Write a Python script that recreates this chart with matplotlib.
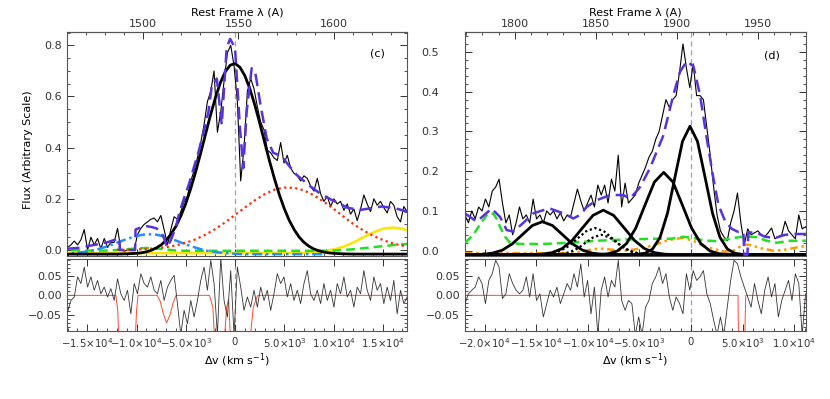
import numpy as np
import matplotlib.pyplot as plt
from matplotlib.ticker import MultipleLocator, FixedLocator

plt.rcParams['font.family'] = ['DejaVu Sans']
plt.rcParams['font.size'] = 8
plt.rcParams['axes.linewidth'] = 0.8

C_KMS = 299792.458

# --------------------------------------
# panel (c) : C IV
# --------------------------------------
civ_lam0 = 1548.2
civ_vlim = (-17060, 17460)
civ_v0, civ_dv = -17000, 338   # spectrum sampling in km/s

civ_flux = [0.01, 0.02, 0.035, 0.02, 0.04, 0.08, 0.0, 0.05, 0.02, 0.045,
            0.005, 0.045, 0.01, 0.03, 0.03, 0.085, 0.0, -0.005, 0.0, 0.005,
            0.0, 0.06, 0.085, 0.1, 0.11, 0.12, 0.125, 0.11, 0.135, 0.08,
            0.02, 0.08, 0.13, 0.12, 0.15, 0.19, 0.21, 0.27, 0.31, 0.36,
            0.42, 0.49, 0.58, 0.62, 0.70, 0.46, 0.54, 0.66, 0.77, 0.80,
            0.72, 0.58, 0.27, 0.40, 0.62, 0.67, 0.63, 0.56, 0.50, 0.47,
            0.39, 0.38, 0.36, 0.35, 0.42, 0.34, 0.37, 0.32, 0.30, 0.29,
            0.27, 0.29, 0.28, 0.25, 0.23, 0.28, 0.22, 0.19, 0.21, 0.17,
            0.20, 0.18, 0.19, 0.155, 0.18, 0.14, 0.16, 0.115, 0.16, 0.215,
            0.18, 0.15, 0.20, 0.175, 0.19, 0.165, 0.145, 0.19, 0.175, 0.13,
            0.11, 0.17, 0.15]

civ_resid = [-0.042, -0.013, -0.004, 0.047, 0.030, 0.072, 0.021, 0.047, 0.013, 0.038,
             0.004, 0.021, -0.004, 0.017, -0.013, 0.042, 0.004, -0.013, 0.013, -0.047,
             0.030, 0.004, 0.055, 0.030, 0.021, 0.047, 0.013, 0.004, 0.038, -0.013,
             0.021, 0.038, 0.051, -0.021, -0.1, -0.038, -0.072, -0.013, -0.055, -0.013,
             0.038, 0.072, 0.013, 0.089, 0.030, -0.1, 0.095, -0.013, -0.055, 0.063,
             -0.1, 0.072, 0.021, -0.038, -0.004, -0.030, 0.013, -0.030, 0.021, -0.013,
             0.013, -0.038, 0.004, 0.055, 0.030, 0.047, -0.004, 0.030, -0.013, 0.013,
             -0.021, 0.030, 0.063, 0.004, -0.013, 0.013, -0.021, 0.030, -0.013, 0.013,
             -0.030, 0.030, 0.004, 0.047, -0.004, 0.013, -0.030, 0.021, 0.004, 0.063,
             0.013, -0.013, 0.047, 0.013, 0.030, -0.021, 0.021, -0.013, 0.038, -0.047,
             0.013, -0.021, -0.004]

# broad C IV gaussian, sampled every 500 km/s
civ_broad_v = np.arange(-18000, 18001, 500)
civ_broad = ([-0.016] * 12 +
             [-0.016, -0.0155, -0.015, -0.014, -0.013, -0.011, -0.007, -0.001, 0.008, 0.020,
              0.038, 0.062, 0.093, 0.133, 0.182, 0.240, 0.305, 0.377, 0.452, 0.526,
              0.594, 0.653, 0.696, 0.722, 0.729, 0.714, 0.681, 0.631, 0.568, 0.497,
              0.422, 0.348, 0.279, 0.216, 0.162, 0.116, 0.080, 0.051, 0.030, 0.015,
              0.004, -0.003, -0.008, -0.011, -0.013, -0.014, -0.015, -0.0155, -0.016] +
             [-0.016] * 12)

# other components, sampled every 1000 km/s
civ_red_v = np.arange(-12000, 18001, 1000)
civ_red = [0.001, 0.001, 0.002, 0.004, 0.007, 0.011, 0.018, 0.028, 0.042, 0.060,
           0.082, 0.108, 0.137, 0.166, 0.194, 0.218, 0.236, 0.244, 0.243, 0.233,
           0.214, 0.189, 0.161, 0.131, 0.102, 0.077, 0.056, 0.039, 0.026, 0.017, 0.011]

civ_blue_v = np.arange(-18000, 9001, 1000)
civ_blue = [-0.015, -0.014, -0.011, -0.006, 0.002, 0.014, 0.028, 0.043, 0.055, 0.062,
            0.060, 0.051, 0.037, 0.022, 0.009, -0.002, -0.008, -0.012, -0.015, -0.016,
            -0.016, -0.016, -0.016, -0.016, -0.016, -0.016, -0.016, -0.016]

civ_green_v = np.arange(-18000, 18001, 1000)
civ_green = [0.0, 0.0, -0.001, -0.002, -0.003, -0.002, 0.0, 0.003, 0.006, 0.008,
             0.006, 0.002, -0.002, -0.003, -0.003, -0.003, -0.003, -0.003, -0.003, -0.003,
             -0.003, -0.003, -0.003, -0.003, -0.003, -0.003, -0.003, -0.003, -0.002, 0.0,
             0.003, 0.007, 0.011, 0.015, 0.019, 0.022, 0.025]

civ_yellow_v = np.arange(-18000, 18001, 1000)
civ_yellow = [-0.012] * 26 + [-0.009, -0.005, 0.002, 0.013, 0.029, 0.049, 0.068, 0.083,
                              0.088, 0.083, 0.070]

civ_total_v = [-17060, -16000, -15000, -14000, -13000, -12200, -11750, -11700, -10150, -10100,
               -9500, -9000, -8500, -8000, -7500, -7200, -6900, -6500, -6000, -5700,
               -5200, -4700, -4200, -3700, -3200, -2700, -2350, -1850, -1350, -850,
               -500, 0, 500, 840, 1180, 1690, 2030, 2530, 3210, 3880,
               4730, 5400, 6250, 7600, 8600, 9800, 11500, 12800, 14000, 14900,
               16200, 17460]
civ_total = [0.005, 0.008, 0.015, 0.022, 0.030, 0.040, 0.047, 0.0, 0.0, 0.08,
             0.09, 0.093, 0.09, 0.085, 0.07, 0.045, 0.01, 0.04, 0.09, 0.14,
             0.20, 0.255, 0.32, 0.385, 0.46, 0.54, 0.645, 0.67, 0.49, 0.79,
             0.825, 0.79, 0.476, 0.32, 0.54, 0.71, 0.70, 0.58, 0.437, 0.38,
             0.367, 0.333, 0.294, 0.25, 0.222, 0.196, 0.164, 0.157, 0.165, 0.17,
             0.164, 0.15]

civ_abs_v = [-17060, -12100, -11900, -11800, -10150, -10000, -9850, -7900, -7600, -7300,
             -6950, -6600, -6300, -6000, -2600, -2250, -2050, -1100, -850, -650,
             -450, 1500, 1850, 2300, 17460]
civ_abs = [0.0, 0.0, -0.04, -0.12, -0.12, -0.04, 0.0, 0.0, -0.015, -0.045,
           -0.07, -0.05, -0.02, 0.0, 0.0, -0.03, -0.12, -0.12, -0.03, -0.01,
           -0.12, -0.12, -0.03, 0.0, 0.0]

civ_xticks = [-15000, -10000, -5000, 0, 5000, 10000, 15000]
civ_xticklabels = [r'$-1.5{\times}10^{4}$', r'$-1.0{\times}10^{4}$', r'$-5.0{\times}10^{3}$', '0',
                   r'$5.0{\times}10^{3}$', r'$1.0{\times}10^{4}$', r'$1.5{\times}10^{4}$']
civ_lamticks = [1500, 1550, 1600]

# --------------------------------------
# panel (d) : C III]
# --------------------------------------
ciii_lam0 = 1908.73
ciii_vlim = (-21900, 11140)
ciii_v0, ciii_dv = -21900, 330

ciii_flux = [0.09, 0.07, 0.1, 0.08, 0.11, 0.1, 0.13, 0.11, 0.15, 0.16,
             0.18, 0.12, 0.07, 0.09, 0.04, 0.07, 0.11, 0.08, 0.09, 0.07,
             0.13, 0.08, 0.09, 0.07, 0.1, 0.09, 0.1, 0.08, 0.095, 0.075,
             0.09, 0.085, 0.12, 0.155, 0.125, 0.1, 0.12, 0.14, 0.11, 0.165,
             0.14, 0.165, 0.12, 0.18, 0.15, 0.24, 0.11, 0.17, 0.12, 0.13,
             0.14, 0.17, 0.19, 0.21, 0.235, 0.25, 0.28, 0.30, 0.34, 0.38,
             0.36, 0.38, 0.39, 0.45, 0.52, 0.46, 0.41, 0.47, 0.39, 0.39,
             0.38, 0.31, 0.24, 0.16, 0.09, 0.05, 0.035, 0.025, 0.07, 0.1,
             0.145, 0.07, 0.015, 0.055, 0.04, 0.045, 0.05, 0.04, 0.035, 0.045,
             0.057, 0.03, 0.035, 0.04, 0.074, 0.05, 0.04, 0.03, 0.09, 0.055,
             0.06]

ciii_resid = [-0.021, 0.004, 0.013, 0.021, 0.047, 0.030, -0.021, 0.038, 0.055, 0.089,
              0.072, -0.008, 0.004, 0.055, 0.030, 0.013, 0.004, 0.013, 0.047, -0.004,
              0.055, -0.013, 0.004, -0.055, -0.021, 0.013, -0.004, 0.021, -0.021, 0.004,
              0.030, 0.013, 0.055, 0.021, 0.080, -0.004, 0.038, -0.047, 0.021, -0.1,
              0.013, 0.047, -0.004, 0.038, 0.021, 0.089, -0.013, -0.038, -0.013, -0.021,
              -0.1, -0.055, -0.1, -0.030, -0.013, 0.030, 0.047, 0.072, 0.030, 0.055,
              -0.004, -0.038, -0.004, -0.021, -0.047, 0.055, 0.013, 0.063, 0.038, 0.047,
              0.063, 0.004, -0.021, -0.063, -0.1, -0.055, -0.1, -0.030, 0.038, 0.089,
              0.080, 0.047, 0.021, -0.004, -0.030, 0.030, -0.013, -0.047, 0.013, 0.047,
              -0.004, 0.030, -0.055, -0.013, 0.013, 0.038, -0.013, 0.055, 0.030, -0.1,
              0.004]

# four solid gaussians and two dotted ones, sampled every half sigma
ciii_g1_v = [-21900, -21225, -20250, -19275, -18300, -17325, -16350, -15375, -14400, -13425,
             -12450, -11475, -10500, -9525, -8550, -7575, 11140]
ciii_g1 = [-0.01, -0.0098, -0.0091, -0.0064, 0.0012, 0.017, 0.0403, 0.0633, 0.073, 0.0633,
           0.0403, 0.017, 0.0012, -0.0064, -0.0091, -0.0098, -0.01]
ciii_g2_v = [-21900, -15500, -14500, -13500, -12500, -11500, -10500, -9500, -8500, -7500,
             -6500, -5500, -4500, -3500, -2500, -1500, 11140]
ciii_g2 = [-0.01, -0.0098, -0.0088, -0.0051, 0.0052, 0.0264, 0.0579, 0.0888, 0.102, 0.0888,
           0.0579, 0.0264, 0.0052, -0.0051, -0.0088, -0.0098, -0.01]
ciii_g3_v = [-21900, -8950, -8050, -7150, -6250, -5350, -4450, -3550, -2650, -1750,
             -850, 50, 950, 1850, 2750, 3650, 11140]
ciii_g3 = [-0.01, -0.0095, -0.0077, -0.0009, 0.018, 0.0572, 0.1155, 0.1727, 0.197, 0.1727,
           0.1155, 0.0572, 0.018, -0.0009, -0.0077, -0.0095, -0.01]
ciii_g4_v = [-21900, -5175, -4450, -3725, -3000, -2275, -1550, -825, -100, 625,
             1350, 2075, 2800, 3525, 4250, 4975, 11140]
ciii_g4 = [-0.01, -0.0093, -0.0064, 0.0042, 0.0337, 0.0949, 0.1859, 0.275, 0.313, 0.275,
           0.1859, 0.0949, 0.0337, 0.0042, -0.0064, -0.0093, -0.01]
ciii_d1_v = [-15250, -14400, -13550, -12700, -11850, -11000, -10150, -9300, -8450, -7600,
             -6750, -5900, -5050, -4200, -3350]
ciii_d1 = [-0.0099, -0.0093, -0.0071, -0.0009, 0.0118, 0.0306, 0.0491, 0.057, 0.0491, 0.0306,
           0.0118, -0.0009, -0.0071, -0.0093, -0.0099]
ciii_d2_v = [-13950, -13200, -12450, -11700, -10950, -10200, -9450, -8700, -7950, -7200,
             -6450, -5700, -4950, -4200, -3450]
ciii_d2 = [-0.0099, -0.0094, -0.0078, -0.0032, 0.0062, 0.0203, 0.0341, 0.04, 0.0341, 0.0203,
           0.0062, -0.0032, -0.0078, -0.0094, -0.0099]

ciii_green_v = [-21900, -21090, -20600, -20120, -19640, -19150, -18830, -18510, -18020, -17540,
                -16570, -14310, -11720, -9140, -6560, -3970, -2030, -740, 230, 1200,
                2490, 3780, 5070, 6360, 7330, 8300, 9590, 11140]
ciii_green = [0.02, 0.04, 0.06, 0.078, 0.095, 0.093, 0.08, 0.06, 0.035, 0.02,
              0.017, 0.017, 0.02, 0.025, 0.028, 0.03, 0.03, 0.035, 0.032, 0.026,
              0.024, 0.03, 0.036, 0.034, 0.025, 0.02, 0.025, 0.025]

ciii_orange_v = [-21900, -12000, -10500, -9500, -8500, -7500, -6500, -5500, -4500, -3500,
                 -2500, -1500, -700, 300, 1200, 2200, 3200, 4000, 4600, 5200,
                 5800, 6800, 8000, 9000, 10000, 11140]
ciii_orange = [-0.006, -0.006, -0.002, 0.004, 0.005, 0.002, 0.0, 0.003, 0.008, 0.015,
               0.024, 0.030, 0.032, 0.024, 0.012, 0.004, -0.002, -0.002, 0.008, 0.016,
               0.014, 0.006, 0.0, 0.002, 0.007, 0.012]

ciii_total_v = [-21900, -20770, -19320, -18510, -17860, -17220, -16250, -15280, -14310, -13660,
                -12370, -11400, -10760, -10110, -9140, -7850, -6560, -5910, -4940, -3970,
                -2680, -1710, -1070, -420, 230, 870, 1520, 2160, 2650, 3290,
                3940, 4590, 5070, 5170, 5460, 5560, 6200, 7170, 8140, 9110,
                10080, 11140]
ciii_total = [0.094, 0.073, 0.106, 0.085, 0.052, 0.048, 0.07, 0.094, 0.102, 0.106,
              0.094, 0.081, 0.09, 0.11, 0.127, 0.14, 0.14, 0.131, 0.16, 0.208,
              0.29, 0.392, 0.45, 0.476, 0.464, 0.392, 0.283, 0.183, 0.116, 0.075,
              0.055, 0.047, 0.047, -0.01, -0.01, 0.045, 0.047, 0.035, 0.032, 0.04,
              0.042, 0.042]

ciii_abs_v = [-21900, 4550, 4600, 5200, 5300, 11140]
ciii_abs = [0.0, 0.0, -0.12, -0.12, 0.0, 0.0]

ciii_xticks = [-20000, -15000, -10000, -5000, 0, 5000, 10000]
ciii_xticklabels = [r'$-2.0{\times}10^{4}$', r'$-1.5{\times}10^{4}$', r'$-1.0{\times}10^{4}$',
                    r'$-5.0{\times}10^{3}$', '0', r'$5.0{\times}10^{3}$', r'$1.0{\times}10^{4}$']
ciii_lamticks = [1800, 1850, 1900, 1950]

# colours / styles
PURPLE = '#5a32dc'
RED = '#ff2a00'
BLUE = '#1e90ff'
GREEN = '#22e022'
YELLOW = '#ffe400'
ORANGE = '#ff9a00'
GRID_GRAY = '#a0a0a0'


def style_axis(ax, ymaj, ymin, xmin=1000):
    ax.xaxis.set_major_locator(MultipleLocator(5000))
    ax.xaxis.set_minor_locator(MultipleLocator(xmin))
    ax.yaxis.set_major_locator(MultipleLocator(ymaj))
    ax.yaxis.set_minor_locator(MultipleLocator(ymin))
    ax.tick_params(which='both', direction='in', top=False, right=True, colors='#333333')
    ax.tick_params(which='major', length=5, width=0.7)
    ax.tick_params(which='minor', length=2.5, width=0.6)
    for s in ax.spines.values():
        s.set_color('#555555')


def add_top_axis(ax, lam0, ticks):
    v2l = lambda v: lam0 * (1 + np.asarray(v) / C_KMS)
    l2v = lambda l: (np.asarray(l) / lam0 - 1) * C_KMS
    sec = ax.secondary_xaxis('top', functions=(v2l, l2v))
    sec.xaxis.set_major_locator(FixedLocator(ticks))
    sec.xaxis.set_minor_locator(MultipleLocator(10))
    sec.tick_params(which='both', direction='in', colors='#333333', pad=2)
    sec.tick_params(which='major', length=5, width=0.7)
    sec.tick_params(which='minor', length=2.5, width=0.6)
    sec.spines['top'].set_color('#555555')
    sec.set_xlabel('Rest Frame \u03bb (A)', labelpad=3)
    return sec


fig = plt.figure(figsize=(8.3, 3.99), dpi=100)

W, H = 830.0, 399.0
panels = [
    dict(x0=67, x1=407, lam0=civ_lam0, vlim=civ_vlim, ylim=(-0.0234, 0.852), ymaj=0.2, ymin=0.05,
         ypad=3.5, lamticks=civ_lamticks, xticks=civ_xticks, xlabels=civ_xticklabels, tag='(c)',
         tagpos=(0.912, 0.905)),
    dict(x0=465, x1=806, lam0=ciii_lam0, vlim=ciii_vlim, ylim=(-0.0133, 0.550), ymaj=0.1, ymin=0.02,
         ypad=19, lamticks=ciii_lamticks, xticks=ciii_xticks, xlabels=ciii_xticklabels, tag='(d)',
         tagpos=(0.899, 0.897)),
]

axes = []
for p in panels:
    left = p['x0'] / W
    width = (p['x1'] - p['x0']) / W
    axm = fig.add_axes([left, (H - 256) / H, width, 224 / H])
    axr = fig.add_axes([left, (H - 331) / H, width, 72 / H])
    for a in (axm, axr):
        a.set_xlim(*p['vlim'])
    axm.set_ylim(*p['ylim'])
    axr.set_ylim(-0.0906, 0.0924)
    style_axis(axm, p['ymaj'], p['ymin'])
    style_axis(axr, 0.05, 0.01)
    axm.tick_params(axis='x', labelbottom=False)
    axm.tick_params(axis='y', pad=p['ypad'])
    axr.tick_params(axis='x', top=True, pad=4)
    axr.tick_params(axis='y', pad=3.5)
    axr.set_xticks(p['xticks'])
    axr.set_xticklabels(p['xlabels'], fontsize=7.3)
    axr.set_yticks([-0.05, 0.0, 0.05])
    axr.set_yticklabels(['\u22120.05', '0.00', '0.05'])
    axr.set_xlabel(r'$\Delta$v (km s$^{-1}$)', labelpad=1)
    if p['ymaj'] == 0.2:
        axm.set_yticks([0.0, 0.2, 0.4, 0.6, 0.8])
        axm.set_yticklabels(['0.0', '0.2', '0.4', '0.6', '0.8'])
    else:
        axm.set_yticks([0.0, 0.1, 0.2, 0.3, 0.4, 0.5])
        axm.set_yticklabels(['0.0', '0.1', '0.2', '0.3', '0.4', '0.5'])
    add_top_axis(axm, p['lam0'], p['lamticks'])
    axm.text(p['tagpos'][0], p['tagpos'][1], p['tag'], transform=axm.transAxes,
             ha='center', va='center', fontsize=8)
    axm.axvline(0, color=GRID_GRAY, lw=0.9, ls=(0, (4, 3)), zorder=1)
    axr.axvline(0, color=GRID_GRAY, lw=0.9, ls=(0, (4, 3)), zorder=1)
    axes.append((axm, axr))

fig.text(28 / W, 1 - 150 / H, 'Flux (Arbitrary Scale)', rotation=90, ha='center', va='center',
         fontsize=8)

# ---- draw panel (c)
axm, axr = axes[0]
civ_v = civ_v0 + civ_dv * np.arange(len(civ_flux))
axm.plot(civ_v, civ_flux, color='black', lw=0.8, zorder=2)
axm.plot(civ_yellow_v, civ_yellow, color=YELLOW, lw=1.8, zorder=3)
axm.plot(civ_green_v, civ_green, color=GREEN, lw=1.8, ls=(0, (3.5, 2)), zorder=3)
axm.plot(civ_blue_v, civ_blue, color=BLUE, lw=1.8, ls=(0, (4, 1.5, 1, 1.5)), zorder=3)
axm.plot(civ_red_v, civ_red, color=RED, lw=1.6, ls=(0, (1, 1.5)), zorder=3)
axm.plot(civ_broad_v, civ_broad, color='black', lw=2.0, zorder=4)
axm.plot(civ_total_v, civ_total, color=PURPLE, lw=1.8, ls=(0, (5, 2.5)), zorder=5)

civ_rv = civ_v0 + civ_dv * np.arange(len(civ_resid))
axr.plot(civ_rv, civ_resid, color='#333333', lw=0.6, zorder=3)
axr.plot(civ_abs_v, civ_abs, color='#ff4a2a', lw=0.7, zorder=2)

# ---- draw panel (d)
axm, axr = axes[1]
ciii_v = ciii_v0 + ciii_dv * np.arange(len(ciii_flux))
axm.plot(ciii_v, ciii_flux, color='black', lw=0.8, zorder=2)
axm.plot(ciii_orange_v, ciii_orange, color=ORANGE, lw=1.8, ls=(0, (3, 1.5, 1, 1.5, 1, 1.5)), zorder=3)
axm.plot(ciii_green_v, ciii_green, color=GREEN, lw=1.8, ls=(0, (3.5, 2)), zorder=3)
axm.plot(ciii_d1_v, ciii_d1, color='black', lw=1.6, ls=(0, (1, 1.2)), zorder=3)
axm.plot(ciii_d2_v, ciii_d2, color='black', lw=1.6, ls=(0, (1, 1.2)), zorder=3)
for gv, g in [(ciii_g1_v, ciii_g1), (ciii_g2_v, ciii_g2), (ciii_g3_v, ciii_g3), (ciii_g4_v, ciii_g4)]:
    axm.plot(gv, g, color='black', lw=2.0, zorder=4)
axm.plot(ciii_total_v, ciii_total, color=PURPLE, lw=1.8, ls=(0, (5, 2.5)), zorder=5)

ciii_rv = ciii_v0 + ciii_dv * np.arange(len(ciii_resid))
axr.plot(ciii_rv, ciii_resid, color='#333333', lw=0.6, zorder=3)
axr.plot(ciii_abs_v, ciii_abs, color='#ff4a2a', lw=0.7, zorder=2)

fig.savefig('out.png', dpi=100)
